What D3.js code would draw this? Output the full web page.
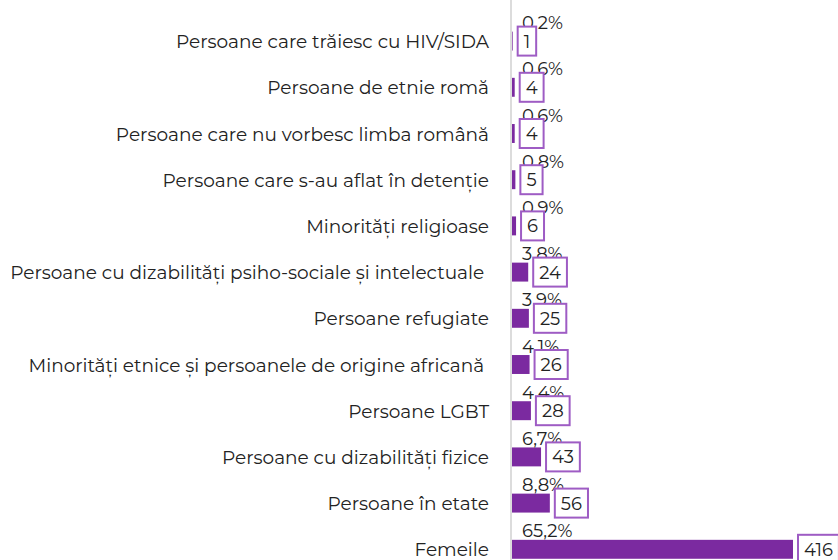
<!DOCTYPE html>
<html><head><meta charset="utf-8">
<script src="https://cdn.jsdelivr.net/npm/d3@7"></script>
<style>body{margin:0;background:#fff}svg{display:block}</style>
</head><body><svg id="c" width="838" height="560"></svg>
<script>
const categories = [
  "Persoane care trăiesc cu HIV/SIDA",
  "Persoane de etnie romă",
  "Persoane care nu vorbesc limba română",
  "Persoane care s-au aflat în detenție",
  "Minorități religioase",
  "Persoane cu dizabilități psiho-sociale și intelectuale ",
  "Persoane refugiate",
  "Minorități etnice și persoanele de origine africană ",
  "Persoane LGBT",
  "Persoane cu dizabilități fizice",
  "Persoane în etate",
  "Femeile"
];
const counts = [1, 4, 4, 5, 6, 24, 25, 26, 28, 43, 56, 416];
const percents = ["0,2%", "0,6%", "0,6%", "0,8%", "0,9%", "3,8%", "3,9%", "4,1%", "4,4%", "6,7%", "8,8%", "65,2%"];

const FONT = "Montserrat, 'DejaVu Sans', sans-serif";
const svg = d3.select("#c");
const x0 = 512;
const x = d3.scaleLinear().domain([0, 416]).range([x0, 793]);
const y = d3.scaleBand().domain(categories).range([18, 572.4]).paddingInner(0.59).paddingOuter(0.295);

svg.append("line").attr("x1", 511).attr("x2", 511).attr("y1", 0).attr("y2", 560)
  .attr("stroke", "#dcdcdc").attr("stroke-width", 2);

const rows = svg.selectAll("g.row").data(categories).join("g").attr("class", "row");

rows.append("text")
  .attr("x", 489).attr("y", d => y(d) + y.bandwidth() / 2 + 7)
  .attr("text-anchor", "end").style("white-space", "pre")
  .attr("font-family", FONT).attr("font-size", 18.5).attr("fill", "#222")
  .text(d => d);

rows.append("rect")
  .attr("x", x0).attr("y", d => y(d)).attr("height", y.bandwidth())
  .attr("width", (d, i) => x(counts[i]) - x0).attr("fill", "#7b2aa0");

rows.append("text")
  .attr("x", 522).attr("y", d => y(d) - 2.5)
  .attr("font-family", FONT).attr("font-size", 18).attr("fill", "#222")
  .text((d, i) => percents[i]);

rows.each(function (d, i) {
  const g = d3.select(this);
  const cy = y(d) + y.bandwidth() / 2;
  const bx = x(counts[i]) + 5;
  const t = g.append("text").attr("x", bx + 6).attr("y", cy).attr("dy", "0.36em")
    .attr("font-family", FONT).attr("font-size", 18).attr("fill", "#222")
    .text(counts[i]);
  const w = t.node().getComputedTextLength();
  g.insert("rect", "text:last-of-type")
    .attr("x", bx).attr("y", cy - 14.5).attr("width", w + 12).attr("height", 29)
    .attr("fill", "#fff").attr("stroke", "#9e5cc4").attr("stroke-width", 2);
  t.raise();
});
</script></body></html>
